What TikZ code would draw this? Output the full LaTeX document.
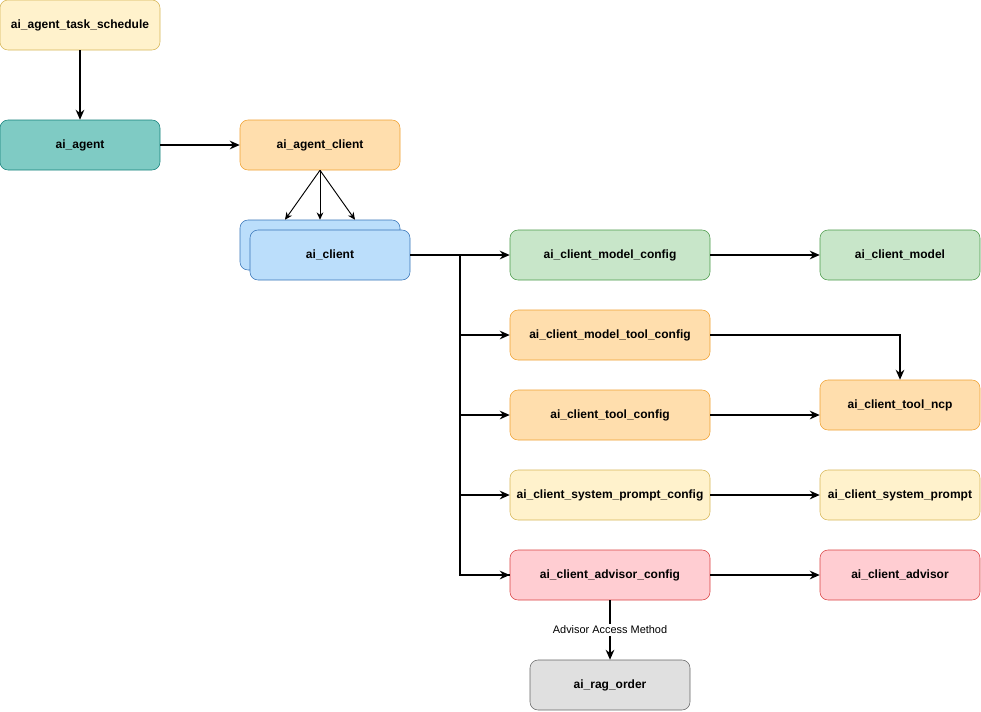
\documentclass[tikz,border=0pt]{standalone}
\usepackage{fontspec}
\setmainfont{Liberation Sans}
\usetikzlibrary{arrows.meta, positioning}
\definecolor{ylwfill}{HTML}{FFF2CC}\definecolor{ylwline}{HTML}{D6B656}
\definecolor{tealfill}{HTML}{7FCBC4}\definecolor{tealline}{HTML}{13807A}
\definecolor{orgfill}{HTML}{FFDEAD}\definecolor{orgline}{HTML}{F0A030}
\definecolor{bluefill}{HTML}{BBDEFB}\definecolor{blueline}{HTML}{3674B8}
\definecolor{grnfill}{HTML}{C8E6C9}\definecolor{grnline}{HTML}{4A9A48}
\definecolor{pinkfill}{HTML}{FFCDD2}\definecolor{pinkline}{HTML}{D94040}
\definecolor{greyfill}{HTML}{E0E0E0}\definecolor{greyline}{HTML}{666666}
\tikzset{box/.style={rectangle,draw,rounded corners=6pt,align=center,inner sep=2pt,minimum width=120pt,minimum height=37.5pt,font=\bfseries\fontsize{9}{11}\selectfont},
  wide/.style={box,minimum width=150pt},
  yellowbox/.style={fill=ylwfill,draw=ylwline},
  tealbox/.style={fill=tealfill,draw=tealline},
  orangebox/.style={fill=orgfill,draw=orgline},
  bluebox/.style={fill=bluefill,draw=blueline},
  greenbox/.style={fill=grnfill,draw=grnline},
  pinkbox/.style={fill=pinkfill,draw=pinkline},
  greybox/.style={fill=greyfill,draw=greyline},
  line/.style={-{Stealth[length=7.5pt,width=6.5pt]},line width=1.1pt},
  thin/.style={-{Stealth[length=5.5pt,width=5pt]},line width=0.7pt}}
\begin{document}
\begin{tikzpicture}[x=0.75pt,y=-0.75pt]
\useasboundingbox (0,0) rectangle (981,711);
% left column
\node[box,yellowbox] (sched) at (80,25) {ai\_agent\_task\_schedule};
\node[box,tealbox] (agent) at (80,145) {ai\_agent};
\node[box,orangebox] (agentcl) at (320,145) {ai\_agent\_client};
\node[box,bluebox] (clientbk) at (320,245) {};
\node[box,bluebox] (client) at (330,255) {ai\_client};
% config column
\node[wide,greenbox] (modelcfg) at (610,255) {ai\_client\_model\_config};
\node[wide,orangebox] (mtoolcfg) at (610,335) {ai\_client\_model\_tool\_config};
\node[wide,orangebox] (toolcfg) at (610,415) {ai\_client\_tool\_config};
\node[wide,yellowbox] (promptcfg) at (610,495) {ai\_client\_system\_prompt\_config};
\node[wide,pinkbox] (advcfg) at (610,575) {ai\_client\_advisor\_config};
% right column
\node[box,greenbox] (model) at (900,255) {ai\_client\_model};
\node[box,orangebox] (toolncp) at (900,405) {ai\_client\_tool\_ncp};
\node[box,yellowbox] (prompt) at (900,495) {ai\_client\_system\_prompt};
\node[box,pinkbox] (adv) at (900,575) {ai\_client\_advisor};
\node[box,greybox] (rag) at (610,685) {ai\_rag\_order};
\coordinate (bus) at (460,255);
% connectors
\draw[line] (sched) -- (agent);
\draw[line] (agent) -- (agentcl);
\draw[thin] (agentcl.south) -- ([xshift=-26.25pt]clientbk.north);
\draw[thin] (agentcl.south) -- (clientbk.north);
\draw[thin] (agentcl.south) -- ([xshift=26.25pt]clientbk.north);
\draw[line,-] (client) -- (bus) |- (advcfg.west);
\draw[line] (bus) -- (modelcfg);
\draw[line] (bus) |- (mtoolcfg);
\draw[line] (bus) |- (toolcfg);
\draw[line] (bus) |- (promptcfg);
\draw[line] (bus) |- (advcfg);
\draw[line] (modelcfg) -- (model);
\draw[line] (mtoolcfg) -| (toolncp);
\draw[line] (toolcfg) -- (toolncp.west |- toolcfg);
\draw[line] (promptcfg) -- (prompt);
\draw[line] (advcfg) -- (adv);
\draw[line] (advcfg) -- node[fill=white,inner sep=1.5pt,font=\fontsize{8.2}{10}\selectfont] {Advisor Access Method} (rag);
\end{tikzpicture}
\end{document}
